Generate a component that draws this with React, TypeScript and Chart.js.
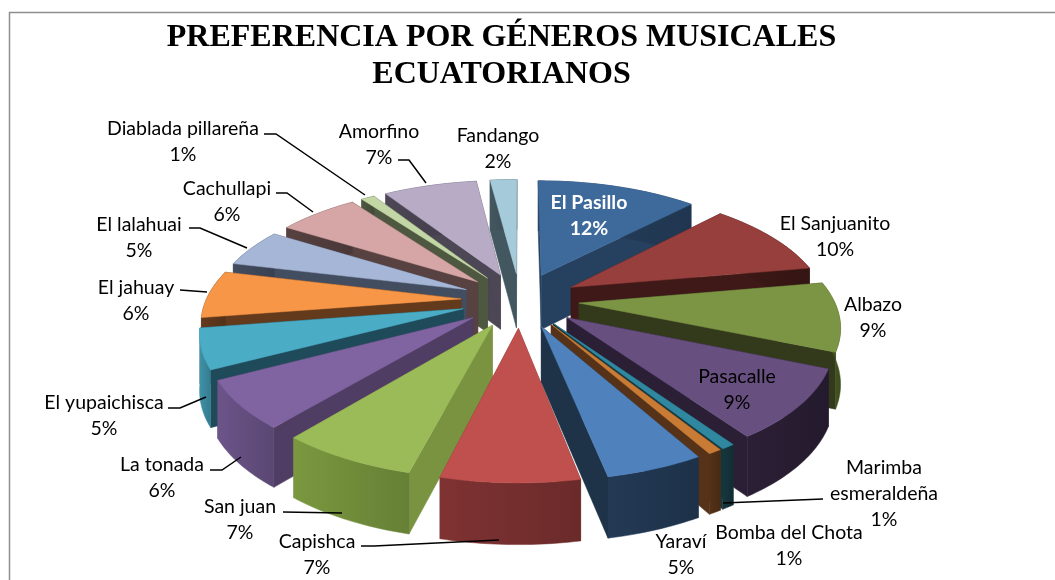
import React, { useEffect, useRef } from "react";
import { Chart, registerables } from "chart.js";

Chart.register(...registerables);

// ---- data ----
const categories = [
  "El Pasillo", "El Sanjuanito", "Albazo", "Pasacalle", "Marimba esmeraldeña", "Bomba del Chota",
  "Yaraví", "Capishca", "San juan", "La tonada", "El yupaichisca", "El jahuay",
  "El lalahuai", "Cachullapi", "Diablada pillareña", "Amorfino", "Fandango",
];
const percentages = [12, 10, 9, 9, 0.7, 0.7, 5, 7, 7, 6.2, 5.2, 6.2, 5, 6, 1, 7, 2];

// ---- styles ----
const topColors = [
  "#3e6a9b", "#973f3d", "#7c9545", "#674f80", "#2f87a0", "#c77b35", "#4f81bd", "#c0504d", "#9bbb59",
  "#8064a2", "#4bacc6", "#f79646", "#a6b6d6", "#d6a5a5", "#c3d6a5", "#b7abc6", "#a5cbda",
];
const wallColors = [
  "#26405f", "#3e1917", "#33391b", "#2b1f35", "#16363e", "#553218", "#1e3248", "#7a3030", "#7a9340",
  "#503d63", "#1f4a5a", "#633a1c", "#434d60", "#574141", "#4e5840", "#4c4655", "#435760",
];
const rimColors = [
  "#26405f", "#3e1917", "#4a5c24", "#2b1f35", "#16363e", "#553218", "#233a56", "#7f3232", "#7a983f",
  "#6b5489", "#3f92a8", "#633a1c", "#434d60", "#574141", "#4e5840", "#4c4655", "#435760",
];

// ---- label layout (centre x, first-line y) ----
const labelLines = [
  ["El Pasillo"], ["El Sanjuanito"], ["Albazo"], ["Pasacalle"], ["Marimba", "esmeraldeña"], ["Bomba del Chota"],
  ["Yaraví"], ["Capishca"], ["San juan"], ["La tonada"], ["El yupaichisca"], ["El jahuay"],
  ["El lalahuai"], ["Cachullapi"], ["Diablada pillareña"], ["Amorfino"], ["Fandango"],
];
const labelAnchors = [
  [589, 203], [835, 224], [873, 305], [737, 377], [884, 468], [789, 533],
  [681, 542], [317, 542], [240, 507], [162, 465], [104, 403], [136, 288],
  [139, 225], [227, 189], [183, 129], [379, 132], [498, 136],
];
const leaderPaths = [
  [[264, 134], [276, 134], [365, 195]],
  [[398, 160], [409, 160], [426, 183]],
  [[276, 193], [287, 193], [313, 212]],
  [[189, 228], [200, 228], [247, 248]],
  [[180, 290], [207, 292]],
  [[168, 408], [180, 408], [206, 397]],
  [[210, 470], [222, 470], [241, 457]],
  [[283, 512], [342, 513]],
  [[361, 546], [374, 546], [499, 540]],
  [[823, 499], [723, 503]],
];

const CENTER = { x: 520, y: 300 };
const TILT = 118 / 255;
const PERSPECTIVE = 0.167;
const DEPTH = 55;

function darken(hex: string, f: number) {
  const n = parseInt(hex.slice(1), 16);
  const c = [(n >> 16) & 255, (n >> 8) & 255, n & 255].map((v) => Math.round(v * f));
  return `rgb(${c[0]},${c[1]},${c[2]})`;
}

const pie3d = {
  id: "pie3d",
  beforeDraw(chart: any) {
    const { ctx } = chart;
    ctx.save();
    ctx.fillStyle = "#ffffff";
    ctx.fillRect(0, 0, 1055, 580);
    ctx.strokeStyle = "#8f8f8f";
    ctx.lineWidth = 1.5;
    ctx.beginPath();
    ctx.moveTo(9.5, 580);
    ctx.lineTo(9.5, 12.5);
    ctx.lineTo(1055, 12.5);
    ctx.stroke();
    ctx.restore();
  },
  beforeDatasetDraw(chart: any, args: any) {
    const { ctx } = chart;
    const arcs = args.meta.data;
    const slices = arcs.map((el: any, i: number) => {
      const a0 = el.startAngle + Math.PI / 2;
      const a1 = el.endAngle + Math.PI / 2;
      const mid = (a0 + a1) / 2;
      return { el, i, a0, a1, mid, order: Math.min(mid, 2 * Math.PI - mid) };
    });
    slices.sort((p: any, q: any) => p.order - q.order);
    for (const s of slices) {
      const R = s.el.outerRadius;
      const e = s.el.options.offset / R;
      const ox = Math.sin(s.mid) * e;
      const oy = -Math.cos(s.mid) * e;
      const proj = (X: number, Y: number, z: number) => {
        const k = 1 / (1 - PERSPECTIVE * Y);
        return [CENTER.x + R * X * k, CENTER.y + R * TILT * Y * k + z * Math.sqrt(k)];
      };
      const rim = (z: number) => {
        const pts: number[][] = [];
        const n = Math.max(2, Math.ceil((s.a1 - s.a0) / 0.02));
        for (let j = 0; j <= n; j++) {
          const t = s.a0 + ((s.a1 - s.a0) * j) / n;
          pts.push(proj(ox + Math.sin(t), oy - Math.cos(t), z));
        }
        return pts;
      };
      const poly = (pts: number[][], fill: any) => {
        ctx.beginPath();
        pts.forEach((p, j) => (j ? ctx.lineTo(p[0], p[1]) : ctx.moveTo(p[0], p[1])));
        ctx.closePath();
        ctx.fillStyle = fill;
        ctx.fill();
        ctx.strokeStyle = fill;
        ctx.lineWidth = 0.5;
        ctx.stroke();
      };
      const topRim = rim(0);
      const botRim = rim(DEPTH);
      const apexT = proj(ox, oy, 0);
      const apexB = proj(ox, oy, DEPTH);
      const wall = wallColors[s.i];
      poly([apexT, topRim[0], botRim[0], apexB], wall);
      poly([apexT, topRim[topRim.length - 1], botRim[botRim.length - 1], apexB], wall);
      const xs = topRim.map((p) => p[0]);
      const g = ctx.createLinearGradient(Math.min(...xs), 0, Math.max(...xs), 0);
      g.addColorStop(0, rimColors[s.i]);
      g.addColorStop(1, darken(rimColors[s.i], 0.84));
      poly([...topRim, ...botRim.slice().reverse()], g);
      poly([apexT, ...topRim], s.el.options.backgroundColor);
    }
    return false;
  },
  afterDraw(chart: any) {
    const { ctx } = chart;
    ctx.save();
    ctx.strokeStyle = "#000000";
    ctx.lineWidth = 1.5;
    for (const path of leaderPaths) {
      ctx.beginPath();
      path.forEach((p, j) => (j ? ctx.lineTo(p[0], p[1]) : ctx.moveTo(p[0], p[1])));
      ctx.stroke();
    }
    ctx.textAlign = "center";
    ctx.textBaseline = "middle";
    categories.forEach((_, i) => {
      const [x, y] = labelAnchors[i];
      const lines = [...labelLines[i], `${Math.round(percentages[i])}%`];
      ctx.font = i === 0 ? "bold 19.5px Lato" : "19.5px Lato";
      ctx.fillStyle = i === 0 ? "#ffffff" : "#000000";
      lines.forEach((t, j) => ctx.fillText(t, x, y + j * 26));
    });
    ctx.restore();
  },
};

export default function App() {
  const ref = useRef<HTMLCanvasElement>(null);
  useEffect(() => {
    const chart = new Chart(ref.current as HTMLCanvasElement, {
      type: "pie",
      data: {
        labels: categories,
        datasets: [
          {
            data: percentages,
            backgroundColor: topColors,
            offset: 59,
            borderWidth: 0,
            radius: 255,
          } as any,
        ],
      },
      options: {
        animation: false,
        responsive: false,
        layout: { padding: { left: 0, right: 52, top: 19, bottom: 0 } },
        plugins: {
          legend: { display: false },
          tooltip: { enabled: false },
          title: {
            display: true,
            text: ["PREFERENCIA POR GÉNEROS MUSICALES", "ECUATORIANOS"],
            color: "#000000",
            font: { family: "'Liberation Serif'", size: 32, weight: "bold", lineHeight: 1.16 },
            padding: { top: 0, bottom: 0 },
          },
        },
      } as any,
      plugins: [pie3d as any],
    });
    return () => chart.destroy();
  }, []);
  return (
    <canvas
      ref={ref}
      width={1055}
      height={580}
      style={{ position: "absolute", left: 0, top: 0, display: "block" }}
    />
  );
}
